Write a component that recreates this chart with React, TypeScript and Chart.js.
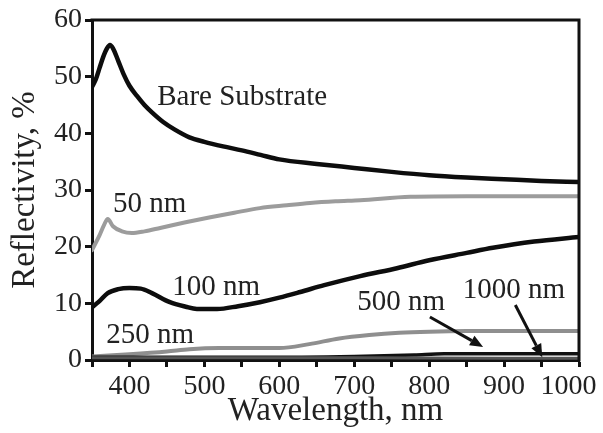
import React, { useEffect, useRef } from 'react';
import { Chart, registerables } from 'chart.js';

Chart.register(...registerables);

// ---- data (wavelength in nm, reflectivity in %) ----
const bareWl = [350, 355, 360, 365, 370, 374, 378, 385, 392, 400, 410, 420, 430, 445, 460, 480, 500, 525, 550, 575, 600, 650, 700, 750, 800, 850, 900, 950, 1000];
const bareR = [48.2, 49.5, 51.5, 53.5, 55.0, 55.6, 55.0, 52.8, 50.5, 48.4, 46.6, 45.0, 43.7, 42.0, 40.7, 39.3, 38.5, 37.7, 37.0, 36.2, 35.4, 34.6, 33.9, 33.2, 32.6, 32.2, 31.9, 31.6, 31.4];

const nm50Wl = [350, 360, 366, 371, 378, 390, 403, 420, 441, 475, 508, 540, 574, 610, 641, 675, 708, 775, 850, 1000];
const nm50R = [19.4, 22.0, 23.8, 24.9, 23.6, 22.7, 22.4, 22.7, 23.3, 24.3, 25.2, 26.0, 26.8, 27.3, 27.7, 28.0, 28.2, 28.8, 28.9, 28.9];

const nm100Wl = [350, 360, 371, 385, 400, 415, 430, 454, 475, 490, 517, 545, 574, 600, 628, 660, 708, 757, 800, 850, 885, 940, 1000];
const nm100R = [9.3, 10.4, 11.8, 12.5, 12.7, 12.6, 11.8, 10.2, 9.4, 9.0, 9.0, 9.5, 10.2, 11.0, 12.0, 13.2, 14.8, 16.2, 17.6, 18.9, 19.8, 20.9, 21.7];

const nm250Wl = [350, 400, 450, 480, 520, 560, 600, 640, 680, 720, 760, 800, 850, 900, 1000];
const nm250R = [0.6, 1.0, 1.5, 1.9, 2.1, 2.1, 2.1, 2.8, 3.8, 4.4, 4.8, 5.0, 5.1, 5.1, 5.1];

const nm500Wl = [350, 500, 630, 700, 780, 820, 1000];
const nm500R = [0.5, 0.5, 0.5, 0.6, 0.9, 1.1, 1.1];

const nm1000Wl = [350, 500, 700, 900, 1000];
const nm1000R = [0.4, 0.4, 0.4, 0.3, 0.3];

const xMin = 350;
const xMax = 1000;
const yMin = 0;
const yMax = 60;

// annotation labels (anchored in data coordinates: left edge, vertical centre)
const labelTexts = ['Bare Substrate', '50 nm', '100 nm', '250 nm', '500 nm', '1000 nm'];
const labelWl = [437, 378, 457, 369, 704, 845];
const labelR = [46.3, 27.5, 12.8, 4.4, 10.1, 12.35];

// arrows (data coordinates)
const arrowFromWl = [801, 915];
const arrowFromR = [7.6, 9.7];
const arrowToWl = [872, 951];
const arrowToR = [2.3, 0.5];

const FONT = '"Liberation Serif", "Times New Roman", serif';
const INK = '#111';
const TEXT = '#222';

const toPts = (wl: number[], r: number[]) => wl.map((w, i) => ({ x: w, y: r[i] }));

const overlay = {
  id: 'overlay',
  afterDatasetsDraw(chart: any) {
    const { ctx, chartArea, scales } = chart;
    const { left, right, top, bottom } = chartArea;
    const x = scales.x;
    const y = scales.y;
    ctx.save();
    // top and right frame
    ctx.strokeStyle = INK;
    ctx.lineWidth = 3;
    ctx.beginPath();
    ctx.moveTo(left - 1.5, top);
    ctx.lineTo(right, top);
    ctx.lineTo(right, bottom + 1.5);
    ctx.stroke();

    // arrows
    for (let i = 0; i < arrowFromWl.length; i++) {
      const x0 = x.getPixelForValue(arrowFromWl[i]);
      const y0 = y.getPixelForValue(arrowFromR[i]);
      const x1 = x.getPixelForValue(arrowToWl[i]);
      const y1 = y.getPixelForValue(arrowToR[i]);
      const ang = Math.atan2(y1 - y0, x1 - x0);
      const hl = 13;
      const hw = 5.5;
      const bx = x1 - hl * Math.cos(ang);
      const by = y1 - hl * Math.sin(ang);
      ctx.strokeStyle = INK;
      ctx.lineWidth = 3;
      ctx.beginPath();
      ctx.moveTo(x0, y0);
      ctx.lineTo(bx, by);
      ctx.stroke();
      ctx.fillStyle = INK;
      ctx.beginPath();
      ctx.moveTo(x1, y1);
      ctx.lineTo(bx + hw * Math.sin(ang), by - hw * Math.cos(ang));
      ctx.lineTo(bx - hw * Math.sin(ang), by + hw * Math.cos(ang));
      ctx.closePath();
      ctx.fill();
    }

    // labels
    ctx.font = `29px ${FONT}`;
    ctx.fillStyle = TEXT;
    ctx.textAlign = 'left';
    ctx.textBaseline = 'middle';
    for (let i = 0; i < labelTexts.length; i++) {
      ctx.fillText(labelTexts[i], x.getPixelForValue(labelWl[i]), y.getPixelForValue(labelR[i]));
    }
    ctx.restore();
  },
};

export default function App() {
  const ref = useRef<HTMLCanvasElement>(null);

  useEffect(() => {
    const canvas = ref.current;
    if (!canvas) return;
    const line = (label: string, wl: number[], r: number[], color: string, width: number) => ({
      label,
      data: toPts(wl, r),
      borderColor: color,
      backgroundColor: color,
      borderWidth: width,
      pointRadius: 0,
      tension: 0.35,
      cubicInterpolationMode: 'monotone' as const,
      fill: false,
    });
    const chart = new Chart(canvas, {
      type: 'line',
      data: {
        datasets: [
          line('1000 nm', nm1000Wl, nm1000R, '#555', 3),
          line('500 nm', nm500Wl, nm500R, '#111', 3.5),
          line('250 nm', nm250Wl, nm250R, '#8f8f8f', 4),
          line('100 nm', nm100Wl, nm100R, '#0d0d0d', 4.5),
          line('50 nm', nm50Wl, nm50R, '#9c9c9c', 4),
          line('Bare Substrate', bareWl, bareR, '#0d0d0d', 4.5),
        ],
      },
      options: {
        animation: false,
        responsive: false,
        maintainAspectRatio: false,
        layout: { padding: { top: 20, right: 24, left: 0, bottom: 0 } },
        plugins: { legend: { display: false }, tooltip: { enabled: false } },
        elements: { line: { borderCapStyle: 'round', borderJoinStyle: 'round' } },
        scales: {
          x: {
            type: 'linear',
            min: xMin,
            max: xMax,
            ticks: {
              stepSize: 50,
              autoSkip: false,
              maxRotation: 0,
              minRotation: 0,
              padding: 3,
              color: TEXT,
              font: { family: FONT, size: 28 },
              callback: (v: any) => (v % 100 === 0 ? (v === 1000 ? '1000   ' : String(v)) : ''),
            },
            grid: { drawOnChartArea: false, drawTicks: true, tickLength: 7, tickWidth: 3, tickColor: INK },
            border: { display: true, color: INK, width: 3 },
            title: {
              display: true,
              text: 'Wavelength, nm',
              color: TEXT,
              font: { family: FONT, size: 33 },
              padding: { top: 0, bottom: 2 },
            },
            afterFit: (s: any) => {
              s.height = 73;
              s.paddingLeft = 0;
              s.paddingRight = 0;
            },
          },
          y: {
            type: 'linear',
            min: yMin,
            max: yMax,
            ticks: {
              stepSize: 10,
              padding: 3,
              color: TEXT,
              font: { family: FONT, size: 28 },
            },
            grid: { drawOnChartArea: false, drawTicks: true, tickLength: 7, tickWidth: 3, tickColor: INK },
            border: { display: true, color: INK, width: 3 },
            title: {
              display: true,
              text: 'Reflectivity, %',
              color: TEXT,
              font: { family: FONT, size: 33 },
              padding: { top: 6, bottom: 0 },
            },
            afterFit: (s: any) => {
              s.width = 92;
              s.paddingTop = 0;
              s.paddingBottom = 0;
            },
          },
        },
      },
      plugins: [overlay],
    });
    return () => chart.destroy();
  }, []);

  return (
    <div style={{ position: 'absolute', left: 0, top: 0, width: 603, height: 433, background: '#fff' }}>
      <canvas ref={ref} width={603} height={433} style={{ display: 'block' }} />
    </div>
  );
}
